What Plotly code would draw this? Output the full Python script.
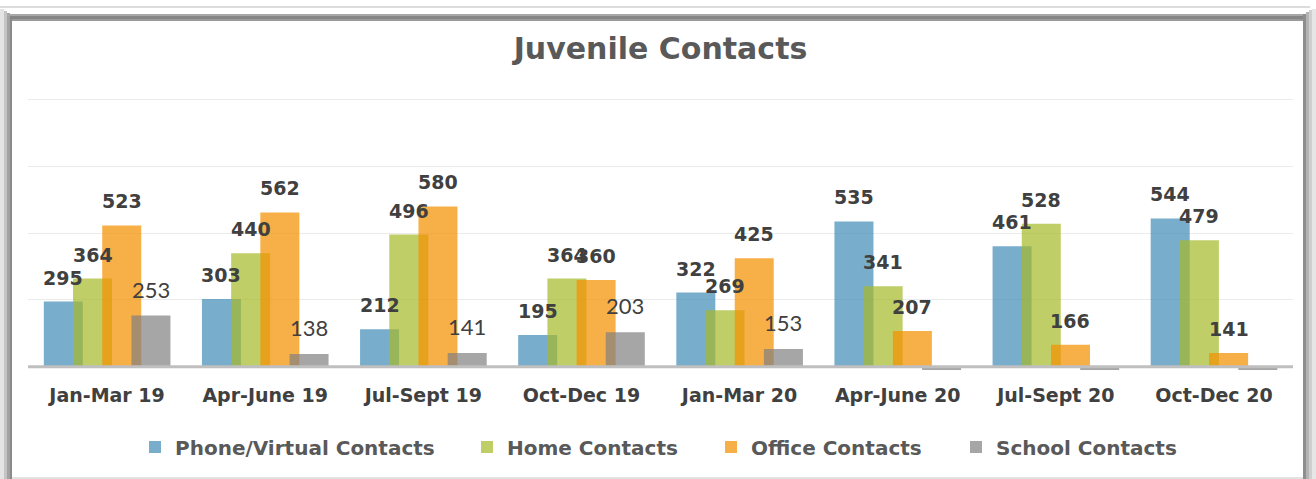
import plotly.graph_objects as go

# ---------------- data ----------------
categories = ["Jan-Mar 19", "Apr-June 19", "Jul-Sept 19", "Oct-Dec 19",
              "Jan-Mar 20", "Apr-June 20", "Jul-Sept 20", "Oct-Dec 20"]
phone = [295, 303, 212, 195, 322, 535, 461, 544]
home = [364, 440, 496, 364, 269, 341, 528, 479]
office = [523, 562, 580, 360, 425, 207, 166, 141]
school = [253, 138, 141, 203, 153, 0, 0, 0]
series_names = ["Phone/Virtual Contacts", "Home Contacts", "Office Contacts", "School Contacts"]

# ---------------- layout constants ----------------
W, H = 1316, 479
ML, MR, MT, MB = 28, 23, 98, 109
PW, PH = W - ML - MR, H - MT - MB
AXIS_MIN = 100
Y_RANGE = [90, 905]
BAR_W = 0.2467
OFFSETS = [-0.4, -0.2153, -0.0306, 0.1541]
COLORS = ["rgba(64,138,183,0.70)", "rgba(165,185,40,0.70)",
          "rgba(244,144,0,0.72)", "rgba(128,128,128,0.70)"]
LEGEND_PX = [135, 467, 711, 956]
FONT = "DejaVu Sans"

def px_x(px):
    return (px - ML) / PW

def px_y(py):
    return (H - MB - py) / PH

fig = go.Figure()
all_series = [phone, home, office, school]
xs = list(range(len(categories)))
for j, (name, vals) in enumerate(zip(series_names, all_series)):
    fig.add_trace(go.Bar(
        x=xs, y=[v - AXIS_MIN for v in vals], base=AXIS_MIN,
        width=BAR_W, offset=OFFSETS[j], name=name,
        marker=dict(color=COLORS[j], line=dict(width=0)),
        legend="legend" if j == 0 else f"legend{j+1}",
        hoverinfo="skip",
    ))

annotations = []
for j, vals in enumerate(all_series):
    for i, v in enumerate(vals):
        if v <= 0:
            continue
        if j == 3:
            font = dict(family="Lato", size=22, color="#404040")
        else:
            font = dict(family=FONT, size=19, color="#404040", weight="bold")
        annotations.append(dict(
            x=i + OFFSETS[j] + BAR_W / 2, y=v, xref="x", yref="y",
            text=str(v), showarrow=False, yanchor="bottom", xanchor="center",
            yshift=11, font=font))

shapes = []
# axis line at the axis minimum
shapes.append(dict(type="line", xref="paper", yref="y", x0=0, x1=1,
                   y0=AXIS_MIN, y1=AXIS_MIN, line=dict(color="#bfbfbf", width=3),
                   layer="above"))
# decorative frame
def rect(x0, y0, x1, y1, color):
    shapes.append(dict(type="rect", xref="paper", yref="paper",
                       x0=px_x(x0), x1=px_x(x1), y0=px_y(y0), y1=px_y(y1),
                       fillcolor=color, line=dict(width=0), layer="above"))

rect(0, 6, 1310, 8, "#dcdcdc")          # outer top line
rect(0, 477, 1316, 479, "#e2e2e2")      # bottom line
# left bevel
rect(0, 9, 4, 479, "#e4e4e4")
rect(4, 11, 7, 479, "#c4c4c4")
rect(7, 13, 10, 479, "#a2a2a2")
rect(10, 15, 12, 479, "#8a8a8a")
# top bevel
rect(7, 14, 1305, 16, "#a8a8a8")
rect(10, 16, 1304, 19, "#858585")
rect(12, 19, 1303, 21, "#9a9a9a")
# right bevel
rect(1303, 14, 1306, 479, "#8e8e8e")
rect(1306, 12, 1309, 479, "#b4b4b4")
rect(1309, 10, 1312, 479, "#cfcfcf")
rect(1312, 9, 1316, 479, "#e6e6e6")

layout = dict(
    width=W, height=H,
    margin=dict(l=ML, r=MR, t=MT, b=MB, autoexpand=False),
    paper_bgcolor="white", plot_bgcolor="white",
    barmode="overlay",
    title=dict(text="Juvenile Contacts", x=0.5, xanchor="center",
               xref="paper", y=1 - 48 / H, yanchor="middle",
               font=dict(family=FONT, size=30, color="#595959", weight="bold")),
    xaxis=dict(range=[-0.5, len(categories) - 0.5], tickvals=xs, ticktext=categories,
               showgrid=False, zeroline=False, showline=False, ticks="",
               ticklabelstandoff=12,
               tickfont=dict(family=FONT, size=19, color="#404040", weight="bold"),
               fixedrange=True),
    yaxis=dict(range=Y_RANGE, tickvals=[300, 500, 700, 900], showticklabels=False,
               showgrid=True, gridcolor="#ebebeb", gridwidth=1, zeroline=False,
               showline=False, ticks="", fixedrange=True),
    annotations=annotations,
    shapes=shapes,
    showlegend=True,
)
legend_font = dict(family=FONT, size=20, color="#595959", weight="bold")
for k, lx in enumerate(LEGEND_PX):
    key = "legend" if k == 0 else f"legend{k+1}"
    layout[key] = dict(x=px_x(lx), xanchor="left", y=px_y(447), yanchor="middle",
                       orientation="h", font=legend_font, bgcolor="rgba(0,0,0,0)",
                       borderwidth=0)
fig.update_layout(**layout)
fig.write_html("out.html", config={"displayModeBar": False},
               post_script="document.body.style.margin='0';document.body.style.padding='0';")
